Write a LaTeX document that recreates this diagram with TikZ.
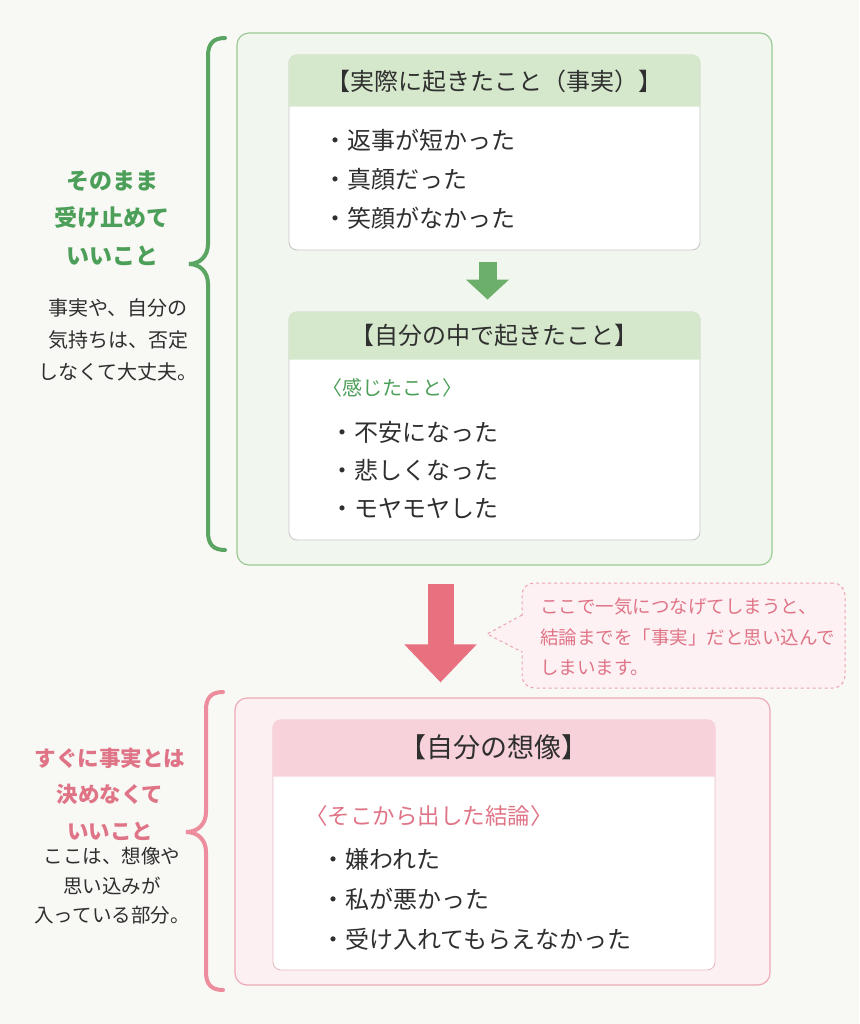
\documentclass[tikz,border=0pt]{standalone}
\usepackage{fontspec}
\setmainfont{Noto Sans CJK JP}
\usetikzlibrary{arrows.meta,positioning}

\definecolor{paper}{HTML}{F8F8F5}
\definecolor{ink}{HTML}{2F2F2F}
\definecolor{gline}{HTML}{9ACB94}
\definecolor{gfill}{HTML}{F1F6EE}
\definecolor{ghead}{HTML}{D5E8CC}
\definecolor{gtext}{HTML}{4C9F58}
\definecolor{gbrace}{HTML}{5BA563}
\definecolor{garrow}{HTML}{6BAF6B}
\definecolor{cardline}{HTML}{C8C8C8}
\definecolor{pline}{HTML}{EDAAB6}
\definecolor{pfill}{HTML}{FCF0F2}
\definecolor{phead}{HTML}{F7D2DA}
\definecolor{pcard}{HTML}{E6BCC4}
\definecolor{ptext}{HTML}{E07487}
\definecolor{pbrace}{HTML}{EC8C9C}
\definecolor{parrow}{HTML}{E8717F}
\definecolor{cline}{HTML}{EDA2AF}
\definecolor{cfill}{HTML}{FDF1F3}

\tikzset{
  outerbox/.style={line width=1.2pt, rounded corners=12pt},
  card/.style={draw=cardline, fill=white, line width=0.9pt, rounded corners=8pt},
  head/.style={font=\fontsize{24}{28}\selectfont, text=ink},
  list/.style={font=\fontsize{24}{39}\selectfont, text=ink, align=left, inner sep=0pt, anchor=west},
  sub/.style={font=\fontsize{20}{24}\selectfont, inner sep=0pt, anchor=west},
  side/.style={font=\bfseries\fontsize{23}{37.5}\selectfont, align=center, inner sep=0pt},
  note/.style={font=\fontsize{20}{32}\selectfont, text=ink, align=center, inner sep=0pt},
  curly/.style={line width=4pt, line cap=round},
}

\begin{document}
\begin{tikzpicture}[x=1pt, y=-1pt]
\fill[paper] (0,0) rectangle (859,1024);
\useasboundingbox (0,0) rectangle (859,1024);

% upper block
\node[outerbox, draw=gline, fill=gfill, minimum width=535pt, minimum height=532pt] (gbox) at (504.5,299) {};

\node[card, minimum width=411pt, minimum height=195pt] (b1) at (494.5,152.5) {};
\fill[ghead] (b1.north west) ++(0,52) [rounded corners=8pt] -- (b1.north west) -- (b1.north east) [sharp corners] -- ++(0,52) -- cycle;
\path (b1.north) ++(0,27) node[head] (h1) {【実際に起きたこと（事実）】};
\node[list] (l1) at (323,179) {・返事が短かった\\・真顔だった\\・笑顔がなかった};

\node[card, minimum width=411pt, minimum height=228pt] (b2) at (494.5,426) {};
\fill[ghead] (b2.north west) ++(0,48) [rounded corners=8pt] -- (b2.north west) -- (b2.north east) [sharp corners] -- ++(0,48) -- cycle;
\path (b2.north) ++(0,24) node[head] (h2) {【自分の中で起きたこと】};
\node[sub, text=gtext] (s2) at (322,388) {〈感じたこと〉};
\node[list, font=\fontsize{24}{38}\selectfont] (l2) at (330,470) {・不安になった\\・悲しくなった\\・モヤモヤした};

\draw[garrow, line width=18pt, -{Triangle[width=42pt,length=20pt]}, shorten <=12pt, shorten >=12pt]
  ([xshift=-7pt]b1.south) -- ([xshift=-7pt]b2.north);

\draw[curly, gbrace] (225,38) .. controls (213,38) and (208,44) .. (208,56) -- (208,244)
  .. controls (208,256) and (200,264) .. (189,264) .. controls (200,264) and (208,272) .. (208,284)
  -- (208,532) .. controls (208,544) and (213,550) .. (225,550);
\node[side, text=gtext] (gl) at (112,218) {そのまま\\受け止めて\\いいこと};
\node[note] (gn) at (118,340) {事実や、自分の\\気持ちは、否定\\しなくて大丈夫。};

% lower block
\node[outerbox, draw=pline, fill=pfill, minimum width=535pt, minimum height=287pt] (pbox) at (502.5,841.5) {};
\node[card, draw=pcard, minimum width=442pt, minimum height=250pt] (b3) at (494,845) {};
\fill[phead] (b3.north west) ++(0,57) [rounded corners=8pt] -- (b3.north west) -- (b3.north east) [sharp corners] -- ++(0,57) -- cycle;
\path (b3.north) ++(0,28) node[head, font=\fontsize{27}{32}\selectfont] (h3) {【自分の想像】};
\node[sub, text=ptext, font=\fontsize{22.5}{26}\selectfont] (s3) at (305,816) {〈そこから出した結論〉};
\node[list, font=\fontsize{24}{40}\selectfont] (l3) at (321,899) {・嫌われた\\・私が悪かった\\・受け入れてもらえなかった};

\draw[parrow, line width=26pt, -{Triangle[width=70pt,length=38pt]}, shorten <=18pt, shorten >=15pt]
  ([xshift=-64pt]gbox.south) -- ([xshift=-62pt]pbox.north);

\draw[curly, pbrace] (223,692) .. controls (211,692) and (206,698) .. (206,710) -- (206,812)
  .. controls (206,824) and (198,832) .. (186,832) .. controls (198,832) and (206,840) .. (206,852)
  -- (206,972) .. controls (206,984) and (211,990) .. (223,990);
\node[side, text=ptext, font=\bfseries\fontsize{21.5}{36.5}\selectfont] (pl) at (110,794) {すぐに事実とは\\決めなくて\\いいこと};
\node[note, font=\fontsize{19.5}{29.5}\selectfont] (pn) at (112,886) {ここは、想像や\\思い込みが\\入っている部分。};

% callout
\node[draw=cline, fill=cfill, dashed, line width=1pt, rounded corners=12pt, minimum width=323pt, minimum height=105pt] (cb) at (683.5,635.5) {};
\coordinate (tip) at (487,634);
\fill[cfill] (524,615) -- (tip) -- (524,652) -- cycle;
\draw[cline, dashed, line width=1pt] (522,615) -- (tip) -- (522,652);
\node[note, text=ptext, align=left, anchor=west, font=\fontsize{18.5}{30.5}\selectfont] (ct) at (540,637)
  {ここで一気につなげてしまうと、\\結論までを「事実」だと思い込んで\\しまいます。};
\end{tikzpicture}
\end{document}
